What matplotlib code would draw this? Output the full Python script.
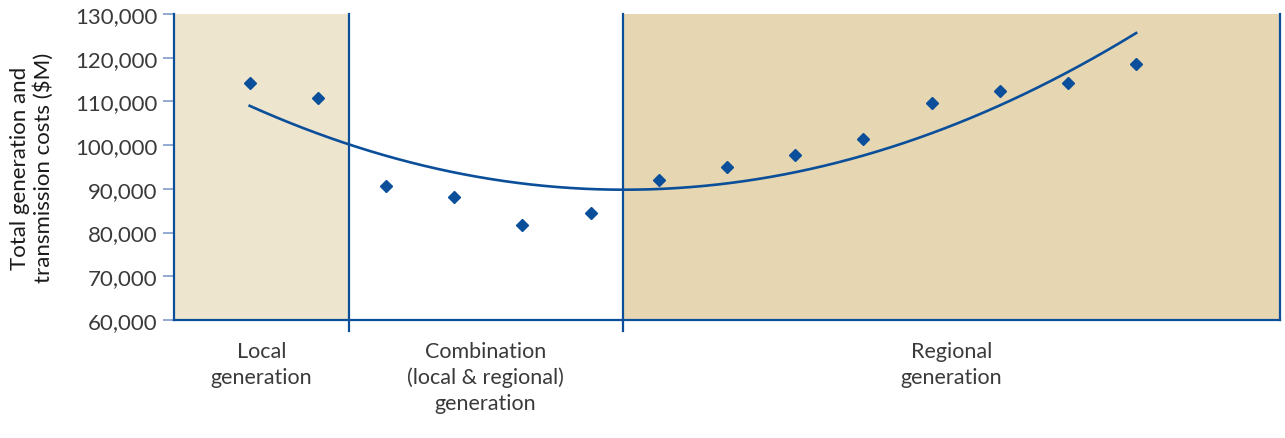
import matplotlib.pyplot as plt
import matplotlib.transforms as mtransforms
import numpy as np

# data
x_vals = np.arange(1, 15)
costs = [114200, 110800, 90700, 88100, 81700, 84500, 92000,
         95000, 97700, 101400, 109600, 112400, 114300, 118600]
band_edges = [-0.11, 2.45, 6.47, 16.11]
band_labels = ['Local\ngeneration',
               'Combination\n(local & regional)\ngeneration',
               'Regional\ngeneration']
band_colors = ['#EDE5CE', '#FFFFFF', '#E6D7B2']
y_ticks = np.arange(60000, 130001, 10000)

BLUE = '#0B4F9A'
TICK = '#7F9CCB'
TEXT = '#3A3A3A'

plt.rcParams['font.family'] = ['Lato', 'DejaVu Sans']

fig = plt.figure(figsize=(12.85, 4.39), dpi=100, facecolor='white')
ax = fig.add_axes([0.1354, 0.2688, 0.8607, 0.6970])

# background bands
for i in range(3):
    ax.axvspan(band_edges[i], band_edges[i + 1], color=band_colors[i], lw=0, zorder=0)

# divider lines, reaching a little below the axis
trans = mtransforms.blended_transform_factory(ax.transData, ax.transAxes)
for xe in band_edges[1:3]:
    ax.plot([xe, xe], [-0.035, 1], transform=trans, color=BLUE, lw=1.6,
            clip_on=False, zorder=3)

# quadratic trend line through the points
coef = np.polyfit(x_vals, costs, 2)
xs = np.linspace(x_vals[0], x_vals[-1], 200)
ax.plot(xs, np.polyval(coef, xs), color=BLUE, lw=1.9, zorder=4)

ax.plot(x_vals, costs, 'D', color=BLUE, ms=6.2, mec=BLUE, zorder=5)

ax.set_xlim(band_edges[0], band_edges[-1])
ax.set_ylim(60000, 130000)
ax.set_yticks(y_ticks)
ax.set_yticklabels([f'{v:,}' for v in y_ticks], fontsize=16, color=TEXT)
ax.set_xticks([])
ax.tick_params(axis='y', length=8, width=1.2, color=TICK, pad=4)

ax.spines['top'].set_visible(False)
for s in ['left', 'right', 'bottom']:
    ax.spines[s].set_color(BLUE)
    ax.spines[s].set_linewidth(1.6)

ax.set_ylabel('Total generation and\ntransmission costs ($M)', fontsize=16,
              color='#1A1A1A', labelpad=15, linespacing=1.2)

# band labels below the axis
for i, lab in enumerate(band_labels):
    xc = (band_edges[i] + band_edges[i + 1]) / 2
    ax.text(xc, -0.068, lab, transform=trans, ha='center', va='top',
            fontsize=15.5, color=TEXT, linespacing=1.36)

fig.savefig('out.png', dpi=100, facecolor='white')
